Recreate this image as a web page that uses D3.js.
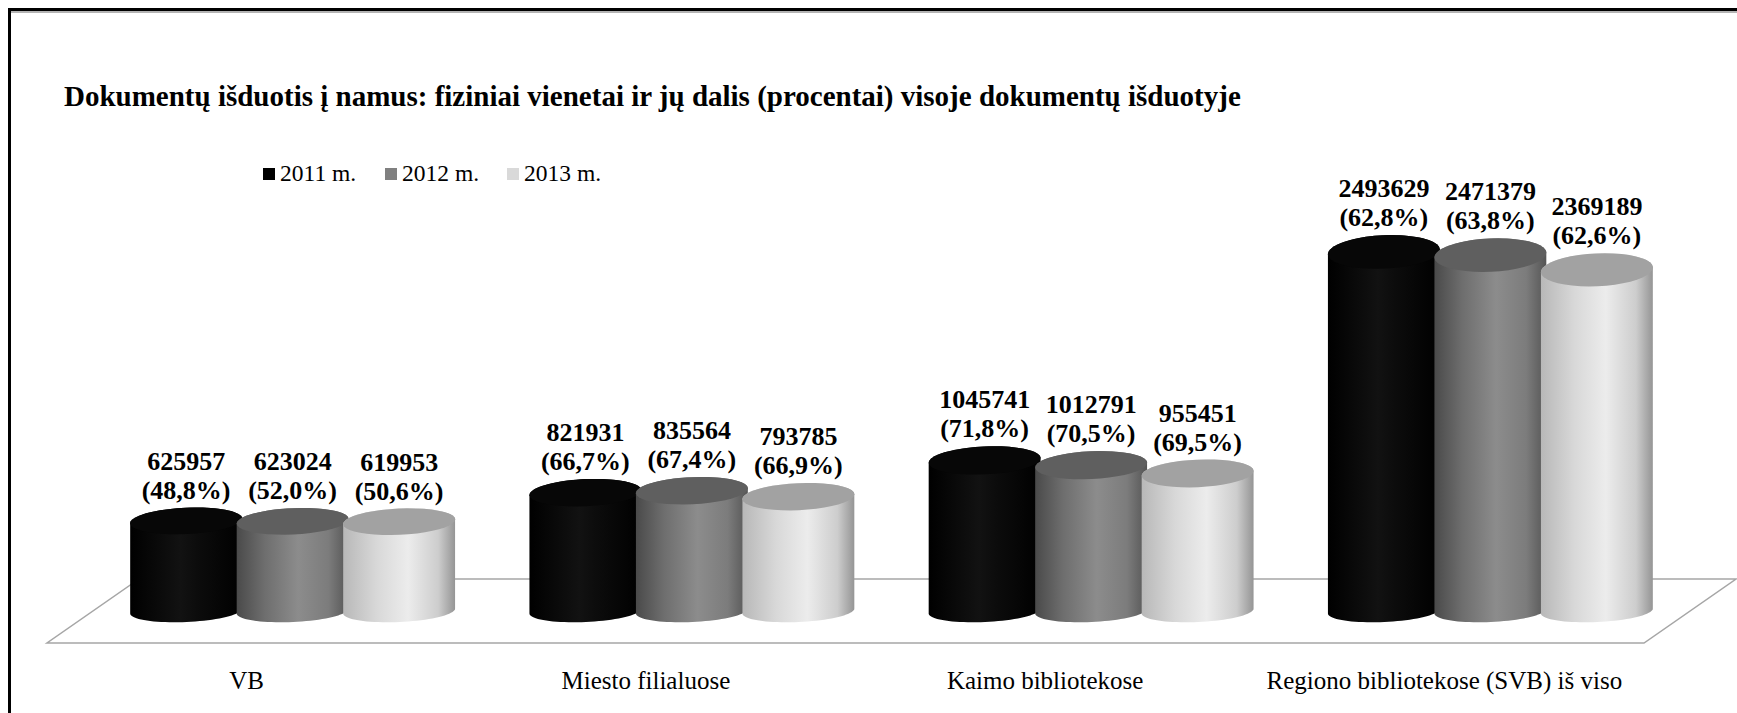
<!DOCTYPE html>
<html>
<head>
<meta charset="utf-8">
<script src="https://cdn.jsdelivr.net/npm/d3@7/dist/d3.min.js"></script>
<style>
  html, body { margin: 0; padding: 0; background: #fff; }
  svg { display: block; }
  text { font-family: "Liberation Serif", "Times New Roman", serif; fill: #000; }
</style>
</head>
<body>
<svg id="chart" width="1737" height="713"></svg>
<script>
// data
const categories = ['VB', 'Miesto filialuose', 'Kaimo bibliotekose', 'Regiono bibliotekose (SVB) iš viso'];
const years = ['2011 m.', '2012 m.', '2013 m.'];
const values2011 = [625957, 821931, 1045741, 2493629];
const values2012 = [623024, 835564, 1012791, 2471379];
const values2013 = [619953, 793785, 955451, 2369189];
const share2011 = [48.8, 66.7, 71.8, 62.8];
const share2012 = [52.0, 67.4, 70.5, 63.8];
const share2013 = [50.6, 66.9, 69.5, 62.6];

const W = 1737, H = 713;
const svg = d3.select('#chart');
const defs = svg.append('defs');

const ltFormat = d3.formatLocale({ decimal: ',', thousands: ' ', grouping: [3], currency: ['', ''] }).format('.1f');

// series styling (body gradient stops, top colour, legend colour)
const styles = [
	{ key: '2011', legend: '#000000', top: '#070707',
		stops: [[0, '#000'], [0.45, '#121212'], [0.6, '#0c0c0c'], [1, '#000']] },
	{ key: '2012', legend: '#808080', top: '#5f5f5f',
		stops: [[0, '#4a4a4a'], [0.25, '#6e6e6e'], [0.55, '#8c8c8c'], [0.82, '#7c7c7c'], [1, '#555']] },
	{ key: '2013', legend: '#d9d9d9', top: '#a2a2a2',
		stops: [[0, '#b8b8b8'], [0.3, '#d8d8d8'], [0.58, '#ececec'], [0.85, '#cdcdcd'], [1, '#959595']] },
];

styles.forEach((s) => {
	let g = defs.append('linearGradient').attr('id', `body${s.key}`)
		.attr('x1', 0).attr('x2', 1).attr('y1', 0).attr('y2', 0);
	s.stops.forEach(([o, c]) => g.append('stop').attr('offset', o).attr('stop-color', c));
});

const series = years.map((y, i) => ({
	name: y,
	style: styles[i],
	values: [values2011, values2012, values2013][i],
	shares: [share2011, share2012, share2013][i],
}));

// frame
svg.append('line').attr('x1', 8).attr('x2', W).attr('y1', 9.5).attr('y2', 9.5)
	.attr('stroke', '#000').attr('stroke-width', 3);
svg.append('line').attr('x1', 10).attr('x2', W).attr('y1', 12).attr('y2', 12)
	.attr('stroke', '#b4b4b4').attr('stroke-width', 2);
svg.append('line').attr('x1', 9.5).attr('x2', 9.5).attr('y1', 8).attr('y2', H)
	.attr('stroke', '#000').attr('stroke-width', 3);

// title
svg.append('text')
	.attr('x', 64).attr('y', 106)
	.style('font-size', '29px').style('font-weight', 'bold')
	.text('Dokumentų išduotis į namus: fiziniai vienetai ir jų dalis (procentai) visoje dokumentų išduotyje');

// legend
const legend = svg.append('g').attr('transform', 'translate(263,168)');
const legendItems = legend.selectAll('g').data(series).enter().append('g')
	.attr('transform', (d, i) => `translate(${i * 122},0)`);
legendItems.append('rect').attr('width', 12).attr('height', 12)
	.attr('fill', d => d.style.legend);
legendItems.append('text').attr('x', 17).attr('y', 13)
	.style('font-size', '23.5px').text(d => d.name);

// scales
const x = d3.scaleBand().domain(categories).range([93, 1690]);
const xs = d3.scaleBand().domain(years).range([-159.75, 159.75]);
const baseY = 611;
const y = d3.scaleLinear().domain([0, 2500000]).range([baseY, 251]);
const depth = { dx: 46, dy: 32 };
const rx = 56, ryBottom = 11, phi = -2.6 * Math.PI / 180;
const ryTop = h => 12 + 0.013 * h;

// floor
const [x0, x1] = x.range();
const floor = [
	[x0 - depth.dx, baseY + depth.dy],
	[x1 - depth.dx, baseY + depth.dy],
	[x1 + depth.dx, baseY - depth.dy],
	[x0 + depth.dx, baseY - depth.dy],
];
svg.append('path').attr('d', d3.line()(floor) + 'Z')
	.attr('fill', '#fff').attr('stroke', '#a6a6a6').attr('stroke-width', 1.5);

// ellipse point
function ept(cx, cy, ry, t) {
	return [
		cx + rx * Math.cos(t) * Math.cos(phi) - ry * Math.sin(t) * Math.sin(phi),
		cy + rx * Math.cos(t) * Math.sin(phi) + ry * Math.sin(t) * Math.cos(phi),
	];
}
function arcPts(cx, cy, ry, t0, t1) {
	let pts = [];
	for (let k = 0; k <= 40; k += 1) pts.push(ept(cx, cy, ry, t0 + (t1 - t0) * k / 40));
	return pts;
}

// cylinders
const cats = svg.selectAll('.cat').data(categories).enter().append('g').attr('class', 'cat');

cats.each(function (cat, ci) {
	let g = d3.select(this);
	series.forEach((s) => {
		let cx = x(cat) + x.bandwidth() / 2 + xs(s.name) + xs.bandwidth() / 2,
			v = s.values[ci],
			cyTop = y(v),
			h = baseY - cyTop,
			ry = ryTop(h);
		let body = arcPts(cx, baseY, ryBottom, 0, Math.PI)
			.concat(arcPts(cx, cyTop, ry, Math.PI, 2 * Math.PI));
		g.append('path').attr('d', d3.line()(body) + 'Z')
			.attr('fill', `url(#body${s.style.key})`);
		g.append('path').attr('d', d3.line()(arcPts(cx, cyTop, ry, 0, 2 * Math.PI)) + 'Z')
			.attr('fill', s.style.top);
		let topmost = cyTop - ry;
		let lbl = g.append('text').attr('text-anchor', 'middle')
			.style('font-size', '26px').style('font-weight', 'bold');
		lbl.append('tspan').attr('x', cx).attr('y', topmost - 38).text(v);
		lbl.append('tspan').attr('x', cx).attr('y', topmost - 9).text(`(${ltFormat(s.shares[ci])}%)`);
	});
});

// category labels
svg.selectAll('.catLabel').data(categories).enter().append('text')
	.attr('class', 'catLabel')
	.attr('x', d => x(d) + x.bandwidth() / 2 - depth.dx)
	.attr('y', 689)
	.attr('text-anchor', 'middle')
	.style('font-size', '25px')
	.text(d => d);
</script>
</body>
</html>
